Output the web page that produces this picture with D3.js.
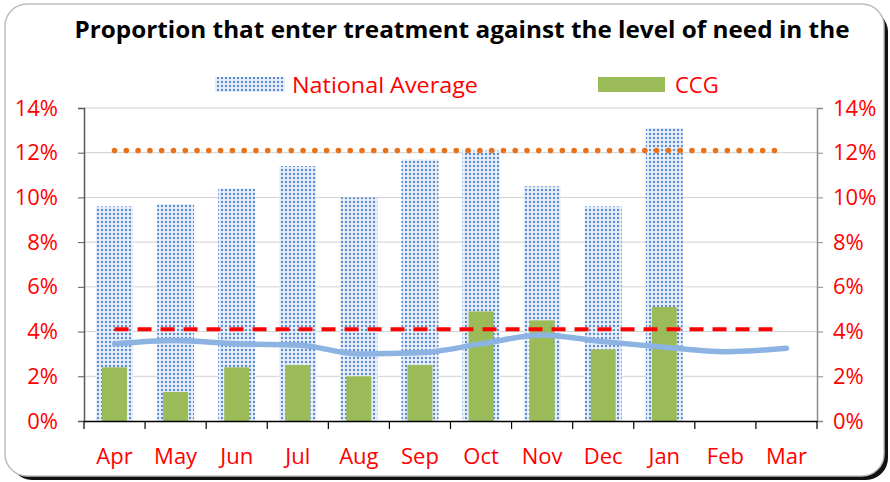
<!DOCTYPE html>
<html><head><meta charset="utf-8">
<script src="https://cdn.jsdelivr.net/npm/d3@7"></script>
<style>body{margin:0;background:#fff;}svg{display:block;font-family:"Open Sans","Liberation Sans",sans-serif;}</style>
</head><body>
<svg id="c" width="890" height="482"></svg>
<script>
const months = ["Apr","May","Jun","Jul","Aug","Sep","Oct","Nov","Dec","Jan","Feb","Mar"];
const nationalAverage = [9.6, 9.7, 10.4, 11.4, 10.0, 11.7, 12.1, 10.5, 9.6, 13.1, null, null];
const ccg = [2.4, 1.3, 2.4, 2.5, 2.0, 2.5, 4.9, 4.5, 3.2, 5.1, null, null];
const trendLine = [3.45, 3.6, 3.45, 3.4, 3.0, 3.05, 3.45, 3.85, 3.55, 3.3, 3.1, 3.25];
const targetDashed = 4.1;
const targetDotted = 12.1;
const yTicks = [0, 2, 4, 6, 8, 10, 12, 14];
const title = "Proportion that enter treatment against the level of need in the";

const svg = d3.select("#c");
const defs = svg.append("defs");
const pat = defs.append("pattern").attr("id","dots").attr("patternUnits","userSpaceOnUse")
  .attr("width",4).attr("height",4);
pat.append("rect").attr("width",4).attr("height",4).attr("fill","#eaf0fa");
pat.append("circle").attr("cx",2).attr("cy",2).attr("r",1.2).attr("fill","#5b8bd0");

// frame with shadow
svg.append("rect").attr("x",10).attr("y",10).attr("width",878).attr("height",470).attr("rx",22).attr("fill","#111");
svg.append("rect").attr("x",5).attr("y",4).attr("width",879).attr("height",472).attr("rx",22)
  .attr("fill","#fff").attr("stroke","#bdbdbd").attr("stroke-width",1.5);

const pL = 84, pR = 817, pT = 108, pB = 421;
const x = d3.scaleBand().domain(months).range([pL, pR]);
const y = d3.scaleLinear().domain([0, 14]).range([pB, pT]);

// gridlines
svg.append("g").selectAll("line").data(yTicks.filter(d=>d>0)).join("line")
  .attr("x1",pL).attr("x2",pR).attr("y1",d=>y(d)).attr("y2",d=>y(d))
  .attr("stroke","#d0d0d0").attr("stroke-width",1);

const cx = d => x(d) + x.bandwidth()/2;

// national bars
const nW = 37, cW = 25;
svg.append("g").selectAll("rect").data(months.map((m,i)=>({m,v:nationalAverage[i]})).filter(d=>d.v!=null))
  .join("rect").attr("x",d=>cx(d.m)-nW/2).attr("width",nW).attr("y",d=>y(d.v)).attr("height",d=>y(0)-y(d.v))
  .attr("fill","url(#dots)");
// ccg bars
svg.append("g").selectAll("rect").data(months.map((m,i)=>({m,v:ccg[i]})).filter(d=>d.v!=null))
  .join("rect").attr("x",d=>cx(d.m)-cW/2).attr("width",cW).attr("y",d=>y(d.v)).attr("height",d=>y(0)-y(d.v))
  .attr("fill","#9bbb59");

// orange dotted line
const dotStart = cx("Apr"), dotEnd = cx("Mar") - 12;
const nd = Math.round((dotEnd - dotStart)/11.8);
svg.append("g").selectAll("circle").data(d3.range(nd+1)).join("circle")
  .attr("cx",i=>dotStart + i*(dotEnd-dotStart)/nd).attr("cy",y(targetDotted)).attr("r",2.8).attr("fill","#e8711c");

// red dashed line
svg.append("line").attr("x1",cx("Apr")).attr("x2",cx("Mar")-14).attr("y1",y(targetDashed)).attr("y2",y(targetDashed))
  .attr("stroke","#ff0000").attr("stroke-width",4).attr("stroke-dasharray","14,9");

// trend line
svg.append("path").datum(trendLine).attr("fill","none").attr("stroke","#8db3e2").attr("stroke-width",5.5)
  .attr("stroke-linecap","round")
  .attr("d", d3.line().x((d,i)=>cx(months[i])).y(d=>y(d)).curve(d3.curveMonotoneX));

// axes
const fmt = d => d + "%";
const yl = svg.append("g").attr("transform",`translate(${pL},0)`)
  .call(d3.axisLeft(y).tickValues(yTicks).tickFormat(fmt).tickSize(6).tickPadding(20));
yl.select(".domain").attr("stroke","#595959").attr("stroke-width",1.5);
yl.selectAll(".tick line").attr("stroke","#595959");
yl.selectAll("text").attr("fill","#ff0000").style("font-size","22px").style("font-family","'Open Sans',sans-serif");

const yr = svg.append("g").attr("transform",`translate(${pR},0)`)
  .call(d3.axisRight(y).tickValues(yTicks).tickFormat(fmt).tickSize(6).tickPadding(10));
yr.select(".domain").attr("stroke","#8c8c8c").attr("stroke-width",1.5);
yr.selectAll(".tick line").attr("stroke","#8c8c8c");
yr.selectAll("text").attr("fill","#ff0000").style("font-size","22px").style("font-family","'Open Sans',sans-serif");

const xa = svg.append("g").attr("transform",`translate(0,${pB})`)
  .call(d3.axisBottom(x).tickSize(0).tickPadding(27));
xa.select(".domain").attr("stroke","#000").attr("stroke-width",1.5);
xa.selectAll("text").attr("fill","#ff0000").style("font-size","22px").style("font-family","'Open Sans',sans-serif");
// category boundary ticks
svg.append("g").selectAll("line").data(d3.range(months.length+1)).join("line")
  .attr("x1",i=>pL + i*x.step()).attr("x2",i=>pL + i*x.step())
  .attr("y1",pB).attr("y2",pB+8).attr("stroke","#000").attr("stroke-width",1.2);

// title
svg.append("text").attr("x",462).attr("y",38).attr("text-anchor","middle")
  .style("font-size","23px").style("font-weight","bold").attr("fill","#000")
  .attr("textLength",775).attr("lengthAdjust","spacingAndGlyphs").text(title);

// legend
svg.append("rect").attr("x",215).attr("y",77).attr("width",70).attr("height",15).attr("fill","url(#dots)");
svg.append("text").attr("x",292).attr("y",93).attr("fill","#ff0000").style("font-size","22px")
  .attr("textLength",186).attr("lengthAdjust","spacingAndGlyphs").text("National Average");
svg.append("rect").attr("x",598).attr("y",77).attr("width",67).attr("height",15).attr("fill","#9bbb59");
svg.append("text").attr("x",675).attr("y",93).attr("fill","#ff0000").style("font-size","22px").text("CCG");
</script>
</body></html>
